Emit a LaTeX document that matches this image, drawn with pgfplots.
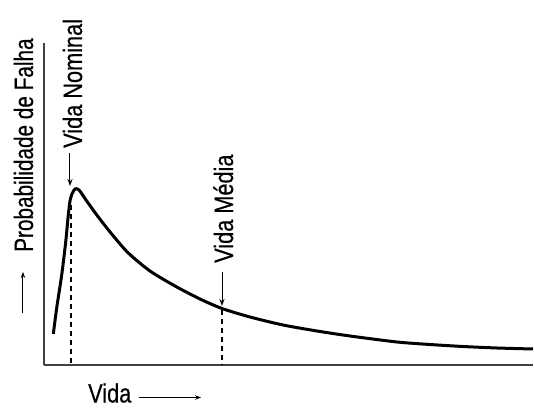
\documentclass[border=0pt]{standalone}
\usepackage{fontspec}
\setmainfont{Liberation Sans}[FakeStretch=0.82,FakeBold=0.4]
\usepackage{pgfplots}
\pgfplotsset{compat=1.18}
\usetikzlibrary{arrows.meta}
\begin{document}
\fontsize{26.5bp}{30bp}\selectfont
\begin{tikzpicture}[x=1bp,y=1bp]
\useasboundingbox (-44bp,-43bp) rectangle (490bp,365bp);
\begin{axis}[
  at={(0,0)}, anchor=south west,
  scale only axis, width=489bp, height=322bp,
  xmin=44, xmax=533, ymin=0, ymax=322,
  axis lines*=left,
  axis line style={line width=1.5bp, black!75},
  xtick=\empty, ytick=\empty,
  clip=false,
]
\addplot[line width=3bp, black, smooth, tension=0.45] coordinates {
(53.3,31) (56.7,57) (61.7,90) (65.7,123) (68.3,150) (70,164) (72,171)
(75,176) (79,175) (86.7,164) (98.3,148) (111.7,131) (128.3,112) (150,94)
(175,79) (200,66) (222,56.5) (250,48) (283,40) (317,34) (350,29)
(397,23) (430,20.5) (463,18.5) (497,17) (533,16)
};
\addplot[line width=1.2bp, black, dash pattern=on 5bp off 4bp] coordinates {(71,160) (71,0)};
\addplot[line width=1.2bp, black, dash pattern=on 5bp off 4bp] coordinates {(222,55) (222,0)};
\draw[line width=1bp, -{Stealth[length=7bp,width=5bp]}] (axis cs:70,212) -- (axis cs:70,179);
\draw[line width=1bp, -{Stealth[length=7bp,width=5bp]}] (axis cs:222,93) -- (axis cs:222,59);
\node[rotate=90, anchor=base west, inner sep=0pt] at (axis cs:82,217) {Vida Nominal};
\node[rotate=90, anchor=base west, inner sep=0pt] at (axis cs:233,102) {Vida Média};
\node[rotate=90, anchor=base west, inner sep=0pt] at (axis cs:33,113) {\scalebox{0.955}[1]{Probabilidade de Falha}};
\draw[line width=1bp, -{Stealth[length=6bp,width=4.5bp]}] (axis cs:23,52) -- (axis cs:23,93);
\node[anchor=base west, inner sep=0pt] at (axis cs:88,-37.5) {Vida};
\draw[line width=1bp, -{Stealth[length=6bp,width=4.5bp]}] (axis cs:139,-32.5) -- (axis cs:201,-32.5);
\end{axis}
\end{tikzpicture}
\end{document}
